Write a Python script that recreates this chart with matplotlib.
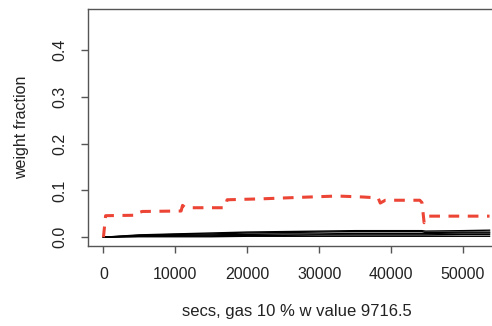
import matplotlib
matplotlib.use('Agg')
import matplotlib.pyplot as plt

plt.rcParams['font.family'] = ['Liberation Sans', 'DejaVu Sans']

# gas weight fraction (red dashed)
red_x = [0, 300, 4700, 5000, 5400, 10800, 11000, 11400, 16900, 17200, 22000,
         27000, 32500, 36000, 38200, 38500, 39200, 44000, 44300, 44600, 45200, 53700]
red_y = [0.000, 0.046, 0.047, 0.053, 0.055, 0.056, 0.068, 0.063, 0.063, 0.080, 0.082,
         0.085, 0.088, 0.086, 0.084, 0.073, 0.079, 0.079, 0.074, 0.031, 0.045, 0.045]

# other components (black)
black_x = [0, 5000, 10000, 15000, 20000, 25000, 30000, 35000, 40000, 44300, 44800, 50000, 53700]
black_ys = [
    [0.000, 0.001, 0.001, 0.001, 0.002, 0.002, 0.002, 0.002, 0.002, 0.002, 0.002, 0.002, 0.002],
    [0.000, 0.002, 0.003, 0.003, 0.004, 0.004, 0.005, 0.005, 0.005, 0.005, 0.005, 0.006, 0.006],
    [0.000, 0.003, 0.004, 0.005, 0.006, 0.007, 0.007, 0.008, 0.008, 0.008, 0.008, 0.009, 0.009],
    [0.000, 0.004, 0.006, 0.007, 0.009, 0.010, 0.011, 0.012, 0.012, 0.012, 0.010, 0.011, 0.011],
    [0.000, 0.005, 0.007, 0.009, 0.011, 0.012, 0.013, 0.014, 0.014, 0.014, 0.013, 0.014, 0.015],
]

xticks = [0, 10000, 20000, 30000, 40000, 50000]
yticks = [0.0, 0.1, 0.2, 0.3, 0.4]

fig = plt.figure(figsize=(4.92, 3.26), dpi=100)
ax = fig.add_axes([88 / 492, 80 / 326, 417 / 492, 237.5 / 326])

for by in black_ys:
    ax.plot(black_x, by, color='black', lw=1.0)
ax.plot(red_x, red_y, color='#EC4536', lw=2.2, dashes=(3.5, 2.8))

xr = 53700
ax.set_xlim(-0.04 * xr, xr * 1.04)
ax.set_ylim(-0.04 * 0.47, 0.47 * 1.04)

ax.set_xticks(xticks)
ax.set_xticklabels([str(t) for t in xticks])
ax.set_yticks(yticks)
ax.set_yticklabels(['%.1f' % t for t in yticks], rotation=90, va='center')

for s in ['left', 'bottom', 'top', 'right']:
    ax.spines[s].set_color('#555555')
    ax.spines[s].set_linewidth(1.0)
ax.spines['right'].set_visible(False)
ax.tick_params(direction='out', length=5, width=1, color='#555555',
               labelsize=11.5, labelcolor='#222222', pad=10)

ax.set_xlabel('secs, gas 10 % w value 9716.5', fontsize=12, color='#222222', labelpad=16)
ax.set_ylabel('weight fraction', fontsize=11.5, color='#222222', labelpad=17)

fig.savefig('out.png', dpi=100)
